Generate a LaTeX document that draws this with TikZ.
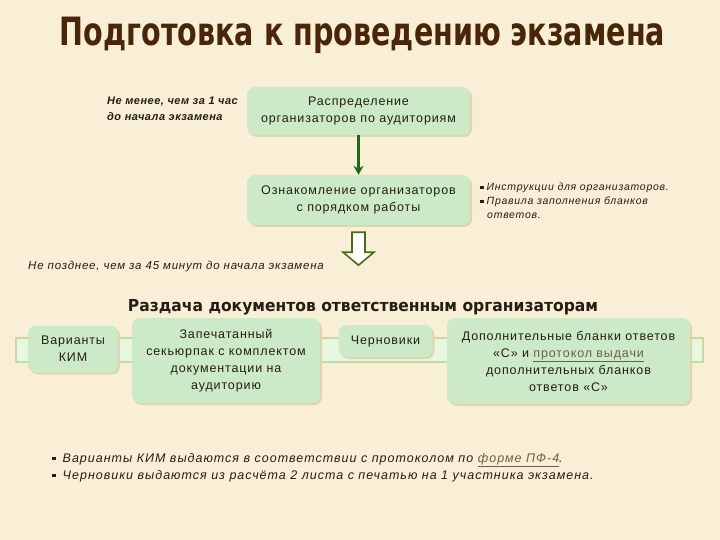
\documentclass[tikz,border=0pt]{standalone}
\usepackage{fontspec}
\setmainfont{Liberation Sans}
\newfontfamily\titlefont{DejaVu Sans}
\usetikzlibrary{shadows,arrows.meta}
\definecolor{bg}{HTML}{F9EFD6}
\definecolor{boxg}{HTML}{CDEAC8}
\definecolor{shad}{HTML}{E2D5AE}
\definecolor{titlec}{HTML}{4A2608}
\definecolor{barf}{HTML}{E8F7E0}
\definecolor{bard}{HTML}{C9D9A2}
\definecolor{darkg}{HTML}{1E6A14}
\definecolor{olivec}{HTML}{4B6B12}
\definecolor{linkc}{HTML}{6E6048}
\definecolor{txt}{HTML}{231F14}
\newcommand{\sqbul}[1]{\raisebox{#1}{\rule{3.5pt}{3.5pt}}}
\newcommand{\spaced}[1]{\addfontfeatures{LetterSpace=#1}}
\tikzset{
  gbox/.style={fill=boxg, rounded corners=8pt, inner sep=0pt, align=center, text=txt,
    font=\fontsize{12.5}{17}\selectfont\spaced{7},
    drop shadow={fill=shad, opacity=1, shadow xshift=2pt, shadow yshift=-2pt}},
  note/.style={inner sep=0pt, align=left, text=txt, anchor=north west},
}
\begin{document}
\begin{tikzpicture}[x=1pt, y=-1pt]
\fill[bg] (0,0) rectangle (720,540);
\useasboundingbox (0,0) rectangle (720,540);

\node[anchor=base, inner sep=0pt, text=titlec, font=\titlefont\fontsize{39}{44}\selectfont\bfseries] (title) at (362.5,46)
  {\resizebox{605pt}{\height}{Подготовка к проведению экзамена}};

\node[note, font=\fontsize{11}{16}\selectfont\bfseries\itshape\spaced{4.5}] (lab1) at (107,97)
  {Не менее, чем за 1 час\\до начала экзамена};

\node[gbox, minimum width=223pt, minimum height=48pt] (dist) at (358.5,111)
  {Распределение\\организаторов по аудиториям};
\node[gbox, minimum width=223pt, minimum height=50pt] (ack) at (358.5,200)
  {Ознакомление организаторов\\с порядком работы};
\draw[darkg, line width=2.5pt, -{Stealth[length=9pt,width=10pt]}] (dist.south) -- (ack.north);

\node[note, font=\fontsize{10.5}{14}\selectfont\itshape\spaced{7}] (rules) at (480,183)
  {\sqbul{1.5pt}\hspace{3pt}Инструкции для организаторов.\\
   \sqbul{1.5pt}\hspace{3pt}Правила заполнения бланков\\
   \hspace*{7pt}ответов.};

\begin{scope}[shift={(ack.south)}]
  \draw[olivec, line width=1.6pt, fill=white, line join=miter]
    (-6.5,7) -- (6.5,7) -- (6.5,27) -- (15.5,27) -- (0,40) -- (-15.5,27) -- (-6.5,27) -- cycle;
\end{scope}

\node[note, font=\fontsize{11.5}{14}\selectfont\itshape\spaced{6.8}] (lab2) at (28,261)
  {Не позднее, чем за 45 минут до начала экзамена};

\node[anchor=base, inner sep=0pt, text=txt, font=\titlefont\fontsize{16.5}{20}\selectfont\bfseries] (head) at (363,311)
  {\resizebox{470pt}{\height}{Раздача документов ответственным организаторам}};

\draw[bard, fill=barf, line width=2pt] (16,338) rectangle (703,362);

\node[gbox, minimum width=90pt, minimum height=47pt] (kim) at (73,349)
  {Варианты\\КИМ};
\node[gbox, minimum width=188pt, minimum height=85pt] (seal) at (226,360.5)
  {Запечатанный\\секьюрпак с комплектом\\документации на\\аудиторию};
\node[gbox, minimum width=94pt, minimum height=32pt] (drafts) at (385.5,341)
  {Черновики};
\node[gbox, minimum width=243pt, minimum height=86pt] (addl) at (568.5,361)
  {Дополнительные бланки ответов\\«С» и \textcolor{linkc}{\underline{протокол выдачи}}\\дополнительных бланков\\ответов «С»};

\node[note, font=\fontsize{12.5}{17}\selectfont\itshape\spaced{8}] (foot) at (52,453)
  {\sqbul{2pt}\hspace{7pt}Варианты КИМ выдаются в соответствии с протоколом по \textcolor{linkc}{\underline{форме ПФ-4}}.\\
   \sqbul{2pt}\hspace{7pt}Черновики выдаются из расчёта 2 листа с печатью на 1 участника экзамена.};
\end{tikzpicture}
\end{document}
